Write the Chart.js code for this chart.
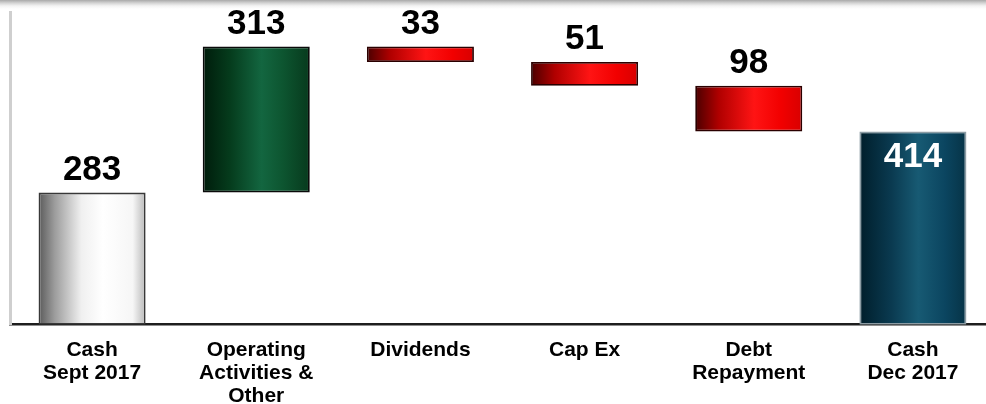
<!DOCTYPE html>
<html lang="en">
<head>
  <meta charset="UTF-8" />
  <title>Cash Walk Sept - Dec 2017</title>
  <script src="https://cdn.jsdelivr.net/npm/chart.js"></script>
  <style>
    html, body { margin:0; padding:0; background:#fff; overflow:hidden; }
    .topband { position:absolute; left:0; top:0; width:986px; height:9px;
      background:linear-gradient(#a9a9a9 0px, #d4d4d4 3px, #f4f4f4 6px, #fff 9px); z-index:2; }
    .wrap { position:relative; width:995px; height:404px; }
  </style>
</head>
<body>
  <div class="topband"></div>
  <div class="wrap"><canvas id="chart"></canvas></div>
  <script>
    // ==== chart data ====
    const categories = [
      ['Cash', 'Sept 2017'],
      ['Operating', 'Activities &', 'Other'],
      'Dividends',
      'Cap Ex',
      ['Debt', 'Repayment'],
      ['Cash', 'Dec 2017']
    ];
    const amounts = [283, 313, 33, 51, 98, 414];
    const steps   = ['total', 'up', 'down', 'down', 'down', 'total'];
    // ====================

    // waterfall ranges from the amounts
    let running = 0;
    const ranges = amounts.map((v, i) => {
      if (steps[i] === 'total') { running = v; return [0, v]; }
      if (steps[i] === 'up') { const r = [running, running + v]; running += v; return r; }
      const r = [running - v, running]; running -= v; return r;
    });

    // left edge -> right edge colour stops for each kind of bar
    const shades = {
      start: [[0,'#5a5a5a'],[0.15,'#9c9c9c'],[0.4,'#f0f0f0'],[0.6,'#ffffff'],[0.88,'#f6f6f6'],[1,'#b8b8b8']],
      up:    [[0,'#001c0b'],[0.25,'#053b1c'],[0.55,'#136640'],[0.75,'#0d5530'],[1,'#073a1d']],
      down:  [[0,'#4a0000'],[0.22,'#b00000'],[0.55,'#ff1414'],[0.8,'#f20000'],[1,'#d80000']],
      end:   [[0,'#001e2b'],[0.3,'#0a3a50'],[0.55,'#175a73'],[0.8,'#0b4560'],[1,'#063346']]
    };
    const kind = i => steps[i] === 'total' ? (i === 0 ? 'start' : 'end') : steps[i];
    const borders = { start:'#383838', up:'#0a0a0a', down:'#2a0000', end:'#8c9ca4' };

    function barFill(c) {
      const chart = c.chart, xs = chart.scales.x;
      const k = kind(c.dataIndex);
      const flat = shades[k][2][1];
      if (!xs || c.type !== 'data') return flat;
      const cx = xs.getPixelForValue(c.dataIndex);
      const half = xs.width / categories.length * 0.652 / 2;
      if (!isFinite(cx) || !isFinite(half) || half <= 0) return flat;
      const g = chart.ctx.createLinearGradient(cx - half, 0, cx + half, 0);
      shades[k].forEach(s => g.addColorStop(s[0], s[1]));
      return g;
    }

    const valueLabels = {
      id: 'valueLabels',
      afterDatasetsDraw(chart) {
        const ctx = chart.ctx;
        const meta = chart.getDatasetMeta(0);
        ctx.save();
        ctx.font = 'bold 35px "Liberation Sans", Arial, sans-serif';
        ctx.textAlign = 'center';
        ctx.textBaseline = 'alphabetic';
        meta.data.forEach((el, i) => {
          const top = Math.min(el.y, el.base);
          if (i === amounts.length - 1) {
            ctx.fillStyle = '#fff';
            ctx.fillText(amounts[i], el.x, top + 36);
          } else {
            ctx.fillStyle = '#000';
            ctx.fillText(amounts[i], el.x, top - 13);
          }
        });
        ctx.restore();
      }
    };

    new Chart(document.getElementById('chart'), {
      type: 'bar',
      data: {
        labels: categories,
        datasets: [{
          data: ranges,
          backgroundColor: barFill,
          borderColor: amounts.map((v, i) => borders[kind(i)]),
          borderWidth: 1.8,
          borderSkipped: false,
          categoryPercentage: 1,
          barPercentage: 0.652
        }]
      },
      options: {
        responsive: true,
        maintainAspectRatio: false,
        animation: false,
        layout: { padding: { top: 12, left: 10, right: 0, bottom: -18 } },
        plugins: { legend: { display: false }, tooltip: { enabled: false } },
        scales: {
          x: {
            grid: { display: false, drawTicks: false },
            border: { color: '#1e1e1e', width: 2.5 },
            ticks: {
              color: '#000',
              padding: 14,
              maxRotation: 0,
              autoSkip: false,
              font: { family: '"Liberation Sans", Arial, sans-serif', size: 21, weight: 'bold', lineHeight: 1.1 }
            }
          },
          y: {
            min: 0,
            max: 670,
            grid: { display: false, drawTicks: false },
            border: { color: '#cfcfcf', width: 3 },
            ticks: { display: false }
          }
        }
      },
      plugins: [valueLabels]
    });
  </script>
</body>
</html>
